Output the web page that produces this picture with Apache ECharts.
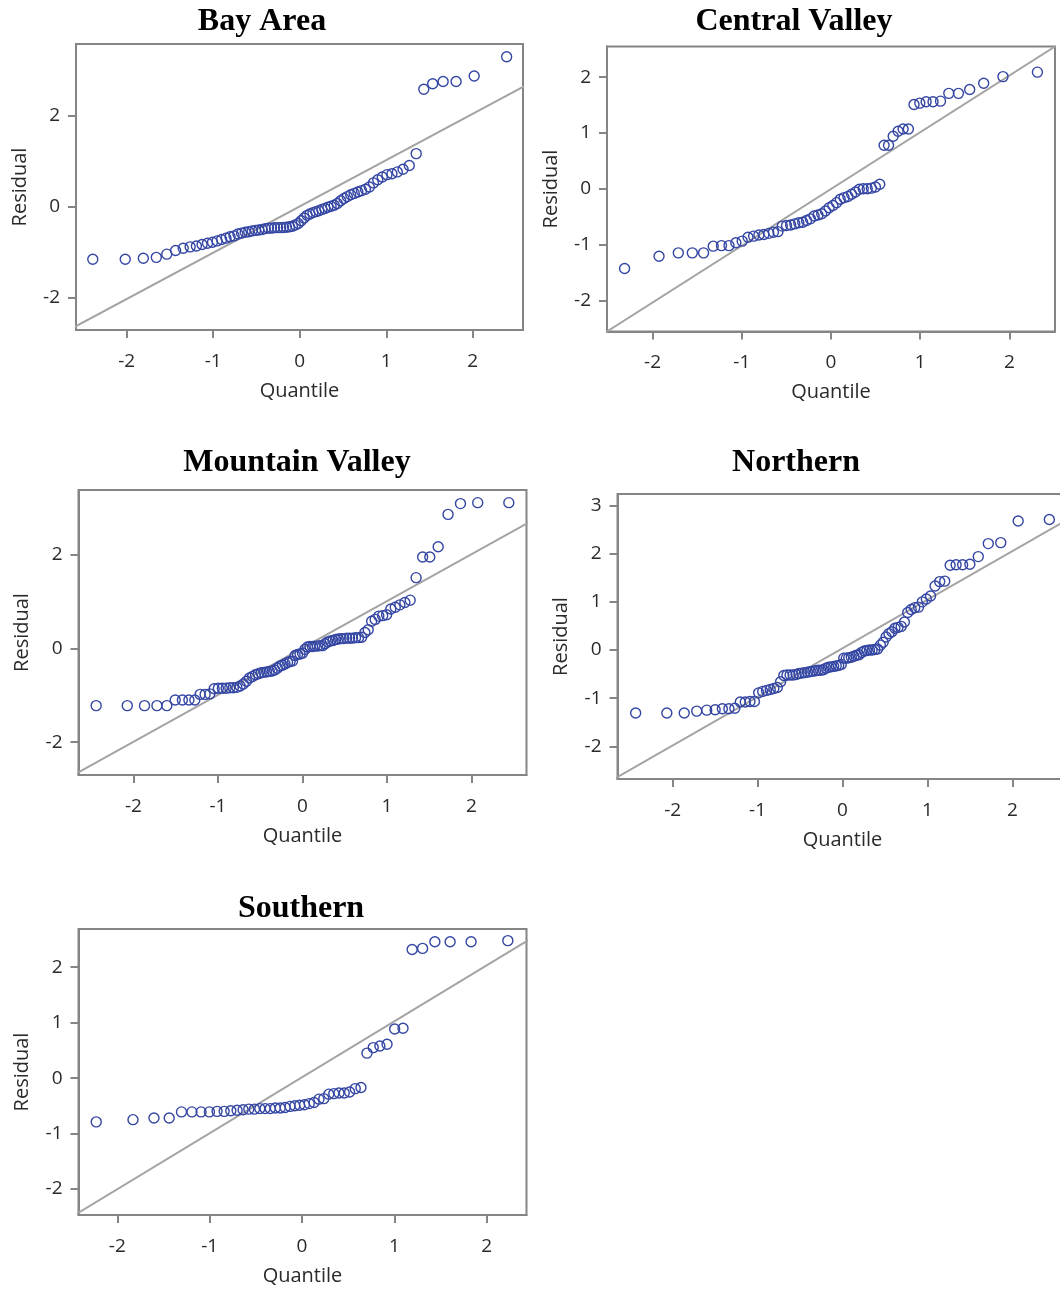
<!DOCTYPE html>
<html>
<head>
<meta charset="utf-8">
<script src="https://cdn.jsdelivr.net/npm/echarts@6/dist/echarts.min.js"></script>
<style>
  html, body { margin: 0; padding: 0; background: #ffffff; }
  #chart { width: 1060px; height: 1289px; }
</style>
</head>
<body>
<div id="chart"></div>
<script>
// ---------- data ----------
const panelTitles = ["Bay Area", "Central Valley", "Mountain Valley", "Northern", "Southern"];
const xAxisName = "Quantile";
const yAxisName = "Residual";

const xTicks = [-2, -1, 0, 1, 2];
const bayYTicks = [-2, 0, 2];
const cvYTicks = [-2, -1, 0, 1, 2];
const mvYTicks = [-2, 0, 2];
const northYTicks = [-2, -1, 0, 1, 2, 3];
const southYTicks = [-2, -1, 0, 1, 2];

// Bay Area
const bayQuantile = [-2.391,-2.016,-1.807,-1.657,-1.536,-1.434,-1.346,-1.266,-1.194,-1.128,-1.066,-1.008,-0.954,-0.902,-0.852,-0.805,-0.759,-0.714,-0.672,-0.630,-0.589,-0.550,-0.511,-0.473,-0.435,-0.398,-0.362,-0.326,-0.291,-0.256,-0.221,-0.187,-0.153,-0.118,-0.085,-0.051,-0.017,0.017,0.051,0.085,0.118,0.153,0.187,0.221,0.256,0.291,0.326,0.362,0.398,0.435,0.473,0.511,0.550,0.589,0.630,0.672,0.714,0.759,0.805,0.852,0.902,0.954,1.008,1.066,1.128,1.194,1.266,1.346,1.434,1.536,1.657,1.807,2.016,2.391];
const bayResidual = [-1.15,-1.15,-1.13,-1.11,-1.04,-0.96,-0.91,-0.88,-0.86,-0.83,-0.80,-0.78,-0.75,-0.72,-0.69,-0.66,-0.64,-0.60,-0.58,-0.56,-0.55,-0.53,-0.52,-0.51,-0.50,-0.48,-0.47,-0.47,-0.46,-0.46,-0.46,-0.455,-0.45,-0.44,-0.43,-0.40,-0.37,-0.31,-0.25,-0.19,-0.16,-0.13,-0.11,-0.09,-0.06,-0.04,-0.01,0.01,0.03,0.07,0.13,0.18,0.22,0.26,0.29,0.32,0.35,0.38,0.43,0.52,0.59,0.65,0.70,0.72,0.76,0.82,0.90,1.16,2.57,2.69,2.74,2.74,2.86,3.28];
const bayRefLine = [[-2.6, -2.63], [2.6, 2.64]];

// Central Valley
const cvQuantile = [-2.313,-1.927,-1.711,-1.554,-1.428,-1.320,-1.227,-1.143,-1.066,-0.995,-0.930,-0.867,-0.808,-0.752,-0.697,-0.645,-0.595,-0.546,-0.498,-0.452,-0.406,-0.361,-0.317,-0.274,-0.231,-0.189,-0.146,-0.104,-0.062,-0.021,0.021,0.062,0.104,0.146,0.189,0.231,0.274,0.317,0.361,0.406,0.452,0.498,0.546,0.595,0.645,0.697,0.752,0.808,0.867,0.930,0.995,1.066,1.143,1.227,1.320,1.428,1.554,1.711,1.927,2.313];
const cvResidual = [-1.43,-1.21,-1.15,-1.15,-1.15,-1.03,-1.02,-1.02,-0.97,-0.94,-0.87,-0.85,-0.83,-0.82,-0.80,-0.78,-0.77,-0.67,-0.66,-0.65,-0.63,-0.61,-0.60,-0.57,-0.54,-0.49,-0.47,-0.45,-0.40,-0.34,-0.30,-0.25,-0.19,-0.16,-0.14,-0.10,-0.06,-0.01,0.00,0.00,0.01,0.03,0.08,0.78,0.78,0.94,1.03,1.07,1.07,1.51,1.535,1.56,1.56,1.57,1.71,1.71,1.78,1.89,2.01,2.09];
const cvRefLine = [[-2.55, -2.60], [2.55, 2.59]];

// Mountain Valley
const mvQuantile = [-2.441,-2.073,-1.869,-1.722,-1.605,-1.506,-1.421,-1.344,-1.274,-1.211,-1.152,-1.097,-1.045,-0.995,-0.948,-0.903,-0.860,-0.818,-0.777,-0.738,-0.700,-0.663,-0.627,-0.591,-0.557,-0.522,-0.489,-0.456,-0.424,-0.392,-0.360,-0.329,-0.298,-0.268,-0.237,-0.207,-0.177,-0.147,-0.118,-0.088,-0.059,-0.029,0,0.029,0.059,0.088,0.118,0.147,0.177,0.207,0.237,0.268,0.298,0.329,0.360,0.392,0.424,0.456,0.489,0.522,0.557,0.591,0.627,0.663,0.700,0.738,0.777,0.818,0.860,0.903,0.948,0.995,1.045,1.097,1.152,1.211,1.274,1.344,1.421,1.506,1.605,1.722,1.869,2.073,2.441];
const mvResidual = [-1.22,-1.22,-1.22,-1.22,-1.22,-1.10,-1.10,-1.10,-1.10,-0.98,-0.98,-0.97,-0.86,-0.85,-0.85,-0.85,-0.84,-0.84,-0.83,-0.80,-0.76,-0.70,-0.63,-0.60,-0.56,-0.54,-0.52,-0.51,-0.50,-0.49,-0.48,-0.46,-0.42,-0.38,-0.36,-0.33,-0.30,-0.28,-0.27,-0.15,-0.13,-0.12,-0.10,-0.02,0.03,0.04,0.04,0.05,0.05,0.06,0.06,0.10,0.14,0.16,0.17,0.19,0.20,0.21,0.21,0.22,0.22,0.22,0.23,0.23,0.24,0.34,0.40,0.58,0.62,0.69,0.70,0.72,0.84,0.88,0.93,0.98,1.03,1.51,1.95,1.95,2.17,2.86,3.09,3.11,3.11];
const mvRefLine = [[-2.7, -2.69], [2.7, 2.71]];

// Northern
const northQuantile = [-2.436,-2.069,-1.864,-1.717,-1.599,-1.500,-1.415,-1.338,-1.268,-1.204,-1.145,-1.090,-1.037,-0.987,-0.940,-0.895,-0.851,-0.809,-0.768,-0.729,-0.691,-0.654,-0.617,-0.582,-0.547,-0.513,-0.479,-0.446,-0.413,-0.381,-0.349,-0.318,-0.287,-0.256,-0.225,-0.195,-0.165,-0.134,-0.104,-0.074,-0.045,-0.015,0.015,0.045,0.074,0.104,0.134,0.165,0.195,0.225,0.256,0.287,0.318,0.349,0.381,0.413,0.446,0.479,0.513,0.547,0.582,0.617,0.654,0.691,0.729,0.768,0.809,0.851,0.895,0.940,0.987,1.037,1.090,1.145,1.204,1.268,1.338,1.415,1.500,1.599,1.717,1.864,2.069,2.436];
const northResidual = [-1.31,-1.31,-1.31,-1.27,-1.25,-1.24,-1.22,-1.22,-1.21,-1.08,-1.08,-1.07,-1.07,-0.89,-0.86,-0.84,-0.82,-0.80,-0.78,-0.66,-0.53,-0.52,-0.52,-0.52,-0.51,-0.49,-0.48,-0.47,-0.46,-0.45,-0.44,-0.43,-0.42,-0.42,-0.41,-0.38,-0.36,-0.35,-0.34,-0.33,-0.32,-0.30,-0.17,-0.17,-0.16,-0.15,-0.13,-0.11,-0.10,-0.05,-0.02,-0.01,0.00,0.00,0.01,0.02,0.10,0.16,0.27,0.34,0.38,0.45,0.47,0.49,0.58,0.78,0.84,0.88,0.89,1.00,1.06,1.12,1.33,1.42,1.43,1.76,1.77,1.77,1.78,1.94,2.21,2.23,2.68,2.71];
const northRefLine = [[-2.7, -2.69], [2.7, 2.76]];

// Southern
const southQuantile = [-2.228,-1.830,-1.603,-1.438,-1.305,-1.192,-1.093,-1.003,-0.920,-0.843,-0.771,-0.703,-0.638,-0.576,-0.515,-0.457,-0.400,-0.344,-0.289,-0.236,-0.183,-0.130,-0.078,-0.026,0.026,0.078,0.130,0.183,0.236,0.289,0.344,0.400,0.457,0.515,0.576,0.638,0.703,0.771,0.843,0.920,1.003,1.093,1.192,1.305,1.438,1.603,1.830,2.228];
const southResidual = [-0.79,-0.75,-0.72,-0.72,-0.61,-0.61,-0.61,-0.61,-0.60,-0.60,-0.59,-0.58,-0.57,-0.56,-0.56,-0.55,-0.55,-0.55,-0.54,-0.54,-0.53,-0.51,-0.50,-0.49,-0.48,-0.46,-0.44,-0.38,-0.37,-0.29,-0.28,-0.27,-0.27,-0.25,-0.19,-0.17,0.45,0.55,0.58,0.61,0.885,0.90,2.32,2.34,2.46,2.46,2.46,2.48];
const southRefLine = [[-2.45, -2.46], [2.45, 2.49]];

// ---------- layout / style ----------
const FRAME = '#858585';
const TEXT = '#2a2a2a';
const MARK = '#3446a3';
const REF = '#a3a3a3';
const SANS = '"Open Sans", "Noto Sans", sans-serif';

const panels = [
  { title: panelTitles[0], tx: 262, ty: 22,  rect: { left: 76,  top: 44,  width: 447, height: 286 }, x: [-2.585, 2.58], y: [-2.70, 3.56], yTicks: bayYTicks,   q: bayQuantile,   r: bayResidual,   line: bayRefLine },
  { title: panelTitles[1], tx: 794, ty: 22,  rect: { left: 607, top: 46.5, width: 448, height: 285 }, x: [-2.51, 2.51], y: [-2.56, 2.55], yTicks: cvYTicks,    q: cvQuantile,    r: cvResidual,    line: cvRefLine },
  { title: panelTitles[2], tx: 297, ty: 463, rect: { left: 78.5, top: 490, width: 448, height: 285 }, x: [-2.65, 2.65], y: [-2.70, 3.38], yTicks: mvYTicks,    q: mvQuantile,    r: mvResidual,    line: mvRefLine },
  { title: panelTitles[3], tx: 796, ty: 463, rect: { left: 617.5, top: 494, width: 450, height: 285 }, x: [-2.65, 2.65], y: [-2.68, 3.24], yTicks: northYTicks, q: northQuantile, r: northResidual, line: northRefLine },
  { title: panelTitles[4], tx: 301, ty: 909, rect: { left: 78.5, top: 929, width: 448, height: 286 }, x: [-2.42, 2.43], y: [-2.47, 2.69], yTicks: southYTicks, q: southQuantile, r: southResidual, line: southRefLine }
];

const grids = [], xAxes = [], yAxes = [], series = [], graphics = [];

panels.forEach((p, i) => {
  grids.push(Object.assign({ show: true, borderColor: FRAME, borderWidth: 2, backgroundColor: 'transparent', containLabel: false, outerBoundsMode: 'none' }, p.rect));
  xAxes.push({
    gridIndex: i, type: 'value', min: p.x[0], max: p.x[1],
    name: xAxisName, nameLocation: 'middle', nameGap: 51,
    nameTextStyle: { fontFamily: SANS, fontSize: 20, color: TEXT },
    axisLine: { show: true, onZero: false, lineStyle: { color: FRAME, width: 2 } },
    axisTick: { show: true, inside: false, length: 8, customValues: xTicks, lineStyle: { color: FRAME, width: 2 } },
    axisLabel: { show: true, customValues: xTicks, margin: 22, fontFamily: SANS, fontSize: 19, color: TEXT,
      formatter: v => (Number.isInteger(v) ? String(v) : '') },
    splitLine: { show: false }
  });
  yAxes.push({
    gridIndex: i, type: 'value', min: p.y[0], max: p.y[1],
    name: yAxisName, nameLocation: 'middle', nameGap: 46,
    nameTextStyle: { fontFamily: SANS, fontSize: 20, color: TEXT },
    axisLine: { show: true, onZero: false, lineStyle: { color: FRAME, width: 2 } },
    axisTick: { show: true, inside: false, length: 8, customValues: p.yTicks, lineStyle: { color: FRAME, width: 2 } },
    axisLabel: { show: true, customValues: p.yTicks, margin: 16, fontFamily: SANS, fontSize: 19, color: TEXT,
      formatter: v => (Number.isInteger(v) ? String(v) : '') },
    splitLine: { show: false }
  });
  series.push({
    type: 'line', xAxisIndex: i, yAxisIndex: i, data: p.line, clip: true,
    symbol: 'none', silent: true, lineStyle: { color: REF, width: 2 }, z: 2
  });
  series.push({
    type: 'scatter', xAxisIndex: i, yAxisIndex: i, clip: true,
    data: p.q.map((v, k) => [v, p.r[k]]),
    symbol: 'circle', symbolSize: 10,
    itemStyle: { color: 'rgba(255,255,255,0)', borderColor: MARK, borderWidth: 1.4, opacity: 1 },
    z: 3
  });
  graphics.push({
    type: 'text', x: p.tx, y: p.ty, z: 10,
    style: { text: p.title, font: 'bold 32px "Liberation Serif", "Times New Roman", serif', fill: '#000', align: 'center', verticalAlign: 'middle' }
  });
});

const chart = echarts.init(document.getElementById('chart'), null, { renderer: 'canvas' });
chart.setOption({
  animation: false,
  backgroundColor: '#ffffff',
  grid: grids,
  xAxis: xAxes,
  yAxis: yAxes,
  series: series,
  graphic: graphics
});
</script>
</body>
</html>
